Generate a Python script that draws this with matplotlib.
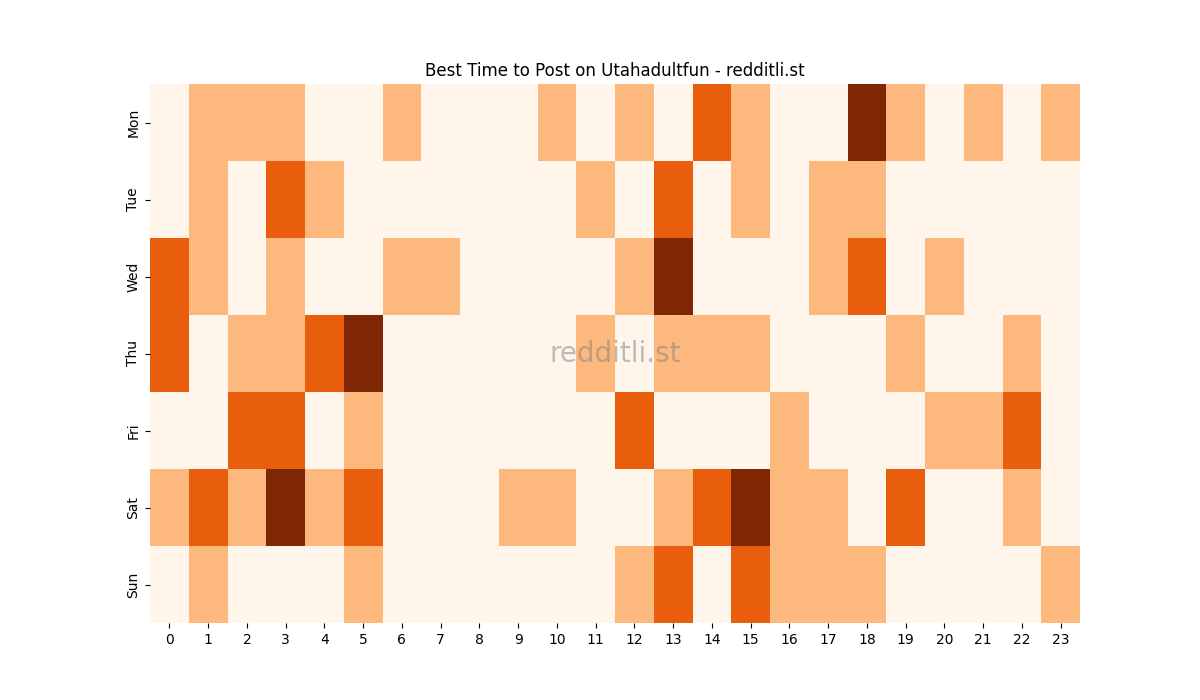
import numpy as np
import matplotlib
matplotlib.use('Agg')
from matplotlib import pyplot as plt
import seaborn as sns

days = ['Mon', 'Tue', 'Wed', 'Thu', 'Fri', 'Sat', 'Sun']
hours = list(range(24))

mon = [0, 1, 1, 1, 0, 0, 1, 0, 0, 0, 1, 0, 1, 0, 2, 1, 0, 0, 3, 1, 0, 1, 0, 1]
tue = [0, 1, 0, 2, 1, 0, 0, 0, 0, 0, 0, 1, 0, 2, 0, 1, 0, 1, 1, 0, 0, 0, 0, 0]
wed = [2, 1, 0, 1, 0, 0, 1, 1, 0, 0, 0, 0, 1, 3, 0, 0, 0, 1, 2, 0, 1, 0, 0, 0]
thu = [2, 0, 1, 1, 2, 3, 0, 0, 0, 0, 0, 1, 0, 1, 1, 1, 0, 0, 0, 1, 0, 0, 1, 0]
fri = [0, 0, 2, 2, 0, 1, 0, 0, 0, 0, 0, 0, 2, 0, 0, 0, 1, 0, 0, 0, 1, 1, 2, 0]
sat = [1, 2, 1, 3, 1, 2, 0, 0, 0, 1, 1, 0, 0, 1, 2, 3, 1, 1, 0, 2, 0, 0, 1, 0]
sun = [0, 1, 0, 0, 0, 1, 0, 0, 0, 0, 0, 0, 1, 2, 0, 2, 1, 1, 1, 0, 0, 0, 0, 1]

grid = np.array([mon, tue, wed, thu, fri, sat, sun])

fig, ax = plt.subplots(figsize=(12, 7), dpi=100)
sns.heatmap(grid, cmap='Oranges', cbar=False, ax=ax,
            xticklabels=hours, yticklabels=days)
ax.set_yticklabels(days, rotation=90, va='center')
ax.set_xticklabels(hours, rotation=0)
ax.set_title('Best Time to Post on Utahadultfun - redditli.st')
ax.text(0.5, 0.5, 'redditli.st', transform=ax.transAxes, ha='center', va='center',
        fontsize=20, color='grey', alpha=0.5)

plt.savefig('out.png')
